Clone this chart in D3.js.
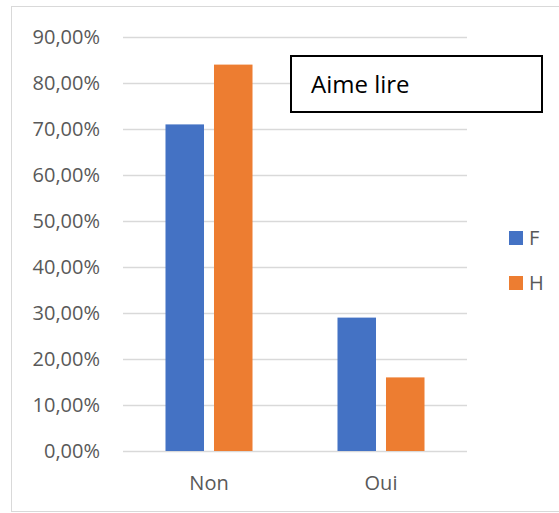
<!DOCTYPE html>
<html lang="fr">
  <head>
    <meta charset="utf-8">
    <title>Aime lire</title>
    <style>
      body { margin: 0; background: #fff; }
      svg { display: block; font-family: "Open Sans", "DejaVu Sans", sans-serif; }
    </style>
  </head>
  <body>
    <svg width="559" height="513"></svg>
    <script src="https://d3js.org/d3.v7.min.js"></script>
    <script>
      const categories = ["Non", "Oui"];
      const series = ["F", "H"];
      const valuesF = [0.71, 0.29];
      const valuesH = [0.84, 0.16];
      const tickValues = [0, 0.1, 0.2, 0.3, 0.4, 0.5, 0.6, 0.7, 0.8, 0.9];
      const colors = ["#4472C4", "#ED7D31"];
      const title = "Aime lire";

      const rows = categories.map((c, i) => ({cat: c, F: valuesF[i], H: valuesH[i]}));

      const svg = d3.select("svg");

      // chart area border
      svg.append("rect")
          .attr("x", 11.5).attr("y", 6.5)
          .attr("width", 560).attr("height", 505)
          .attr("fill", "none")
          .attr("stroke", "#d9d9d9");

      const y = d3.scaleLinear().domain([0, 0.9]).range([451, 37]);
      const x0 = d3.scaleBand().domain(categories).range([123, 467]);
      const x1 = d3.scaleBand().domain(series).range([0, x0.bandwidth()])
          .paddingInner(0.206).paddingOuter(0.876);
      const color = d3.scaleOrdinal().domain(series).range(colors);

      const fmt = v => d3.format(".2f")(v * 100).replace(".", ",") + "%";

      // gridlines + y labels
      const yAxis = d3.axisLeft(y)
          .tickValues(tickValues)
          .tickSize(-(467 - 123))
          .tickPadding(23)
          .tickFormat(fmt);

      const gy = svg.append("g")
          .attr("transform", "translate(123,0)")
          .call(yAxis);
      gy.select(".domain").remove();
      gy.selectAll(".tick line").attr("stroke", "#d9d9d9").attr("stroke-width", 1.5);
      gy.selectAll(".tick text")
          .attr("fill", "#595959")
          .attr("font-size", 20)
          .attr("font-family", "'Open Sans', sans-serif");

      // bars
      svg.append("g")
        .selectAll("g")
        .data(rows)
        .join("g")
          .attr("transform", d => `translate(${x0(d.cat)},0)`)
        .selectAll("rect")
        .data(d => series.map(s => ({key: s, value: d[s]})))
        .join("rect")
          .attr("x", d => x1(d.key))
          .attr("width", x1.bandwidth())
          .attr("y", d => y(d.value))
          .attr("height", d => y(0) - y(d.value))
          .attr("fill", d => color(d.key));

      // x labels
      const gx = svg.append("g")
          .attr("transform", "translate(0,451)")
          .call(d3.axisBottom(x0).tickSize(0).tickPadding(25));
      gx.select(".domain").remove();
      gx.selectAll(".tick text")
          .attr("fill", "#595959")
          .attr("font-size", 20)
          .attr("font-family", "'Open Sans', sans-serif");

      // legend
      const legend = svg.append("g")
        .selectAll("g")
        .data(series)
        .join("g")
          .attr("transform", (d, i) => `translate(509,${231 + i * 45})`);
      legend.append("rect")
          .attr("width", 14).attr("height", 14)
          .attr("fill", d => color(d));
      legend.append("text")
          .attr("x", 20).attr("y", 14)
          .attr("fill", "#595959")
          .attr("font-size", 20)
          .text(d => d);

      // title box
      svg.append("rect")
          .attr("x", 291).attr("y", 56)
          .attr("width", 251).attr("height", 56)
          .attr("fill", "#fff")
          .attr("stroke", "#000")
          .attr("stroke-width", 2);
      svg.append("text")
          .attr("x", 311).attr("y", 93)
          .attr("font-size", 24)
          .attr("fill", "#000")
          .text(title);
    </script>
  </body>
</html>
